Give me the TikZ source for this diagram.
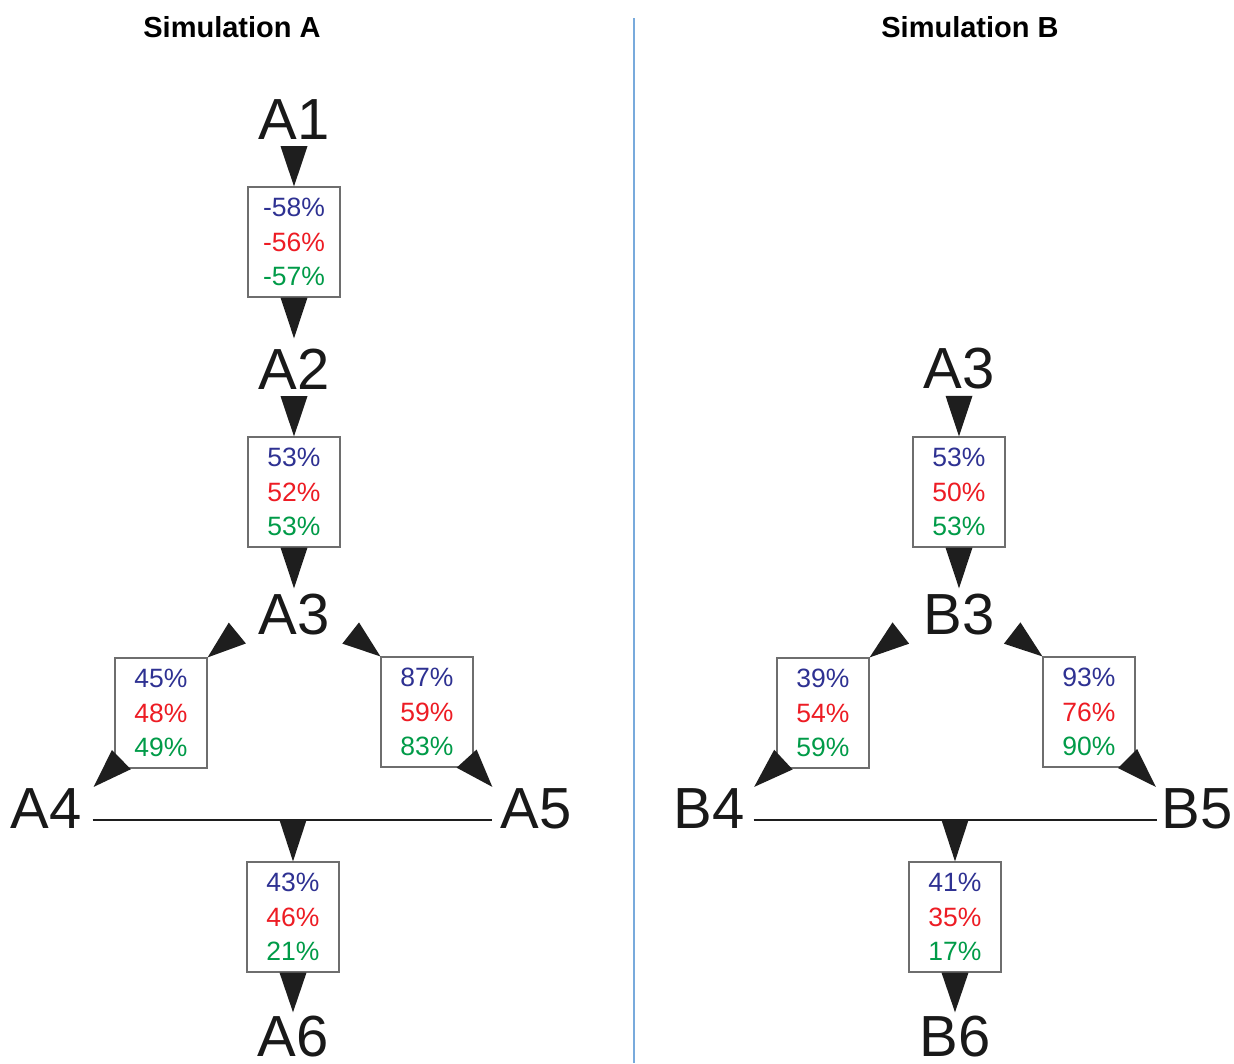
\documentclass[tikz,border=0pt]{standalone}
\usepackage{fontspec}
\setmainfont{Liberation Sans}
\usepackage{tikz}
\usetikzlibrary{calc}
\definecolor{simblue}{RGB}{46, 49, 146}
\definecolor{simred}{RGB}{237, 28, 36}
\definecolor{simgreen}{RGB}{0, 155, 72}
\definecolor{divblue}{RGB}{120, 170, 220}
\definecolor{boxgray}{RGB}{110, 110, 110}
\definecolor{tridark}{RGB}{30, 30, 30}

% triangle: base centre, apex
\newcommand{\flowtri}[2]{\fill[tri] ($#1!13.5pt!90:#2$) -- ($#1!13.5pt!-90:#2$) -- #2 -- cycle;}
\newcommand{\vals}[3]{\textcolor{simblue}{#1}\\\textcolor{simred}{#2}\\\textcolor{simgreen}{#3}}

\begin{document}
\begin{tikzpicture}[
    x=1pt, y=1pt,
    lbl/.style={font=\fontsize{58}{60}\selectfont, text=black!90, inner sep=0pt, anchor=base},
    title/.style={font=\fontsize{29}{32}\selectfont\bfseries, inner sep=0pt},
    valbox/.style={draw=boxgray, line width=1.2pt, fill=white, minimum width=92pt,
                   minimum height=110pt, inner sep=0pt, align=center,
                   font=\fontsize{26.5}{34.5}\selectfont},
    tri/.style={fill=tridark}
]
    \useasboundingbox (0,0) rectangle (1234,-1063);

    % Titles and divider
    \node[title] (titA) at (232,-27) {Simulation A};
    \node[title] (titB) at (970,-27) {Simulation B};
    \draw[divblue, line width=1.5pt] (634,-18) -- (634,-1063);

    % Simulation A
    \node[lbl] (A1) at (294,-139) {A1};
    \node[valbox] (pa1) at (294,-242) {\vals{-58\%}{-56\%}{-57\%}};
    \node[lbl] (A2) at (294,-389) {A2};
    \node[valbox] (pa2) at (294,-492) {\vals{53\%}{52\%}{53\%}};
    \node[lbl] (A3) at (294,-634) {A3};
    \node[valbox] (pa3) at (161,-713) {\vals{45\%}{48\%}{49\%}};
    \node[valbox] (pa4) at (427,-712) {\vals{87\%}{59\%}{83\%}};
    \node[lbl] (A4) at (46,-828) {A4};
    \node[lbl] (A5) at (536,-828) {A5};
    \node[valbox] (pa5) at (293,-917) {\vals{43\%}{46\%}{21\%}};
    \node[lbl] (A6) at (293,-1056) {A6};

    \coordinate (la) at ([shift={(11,-12)}]A4.east);
    \coordinate (ra) at ([xshift=-8pt]A5.west |- la);
    \draw[line width=2.8pt, tridark] (la) -- (ra);

    \flowtri{([yshift=-7pt]A1.south)}{(pa1.north)}
    \flowtri{(pa1.south)}{([yshift=10pt]A2.north)}
    \flowtri{([yshift=-7pt]A2.south)}{(pa2.north)}
    \flowtri{(pa2.south)}{([yshift=5pt]A3.north)}
    \flowtri{([shift={(-21,-19)}]A3.west)}{(pa3.north east)}
    \flowtri{([shift={(7,9)}]pa3.south west)}{([shift={(12,1)}]A4.north east)}
    \flowtri{([shift={(21,-19)}]A3.east)}{(pa4.north west)}
    \flowtri{([shift={(-7,9)}]pa4.south east)}{([shift={(-8,1)}]A5.north west)}
    \flowtri{(la -| pa5.north)}{(pa5.north)}
    \flowtri{(pa5.south)}{([yshift=3pt]A6.north)}

    % Simulation B
    \node[lbl] (bA3) at (959,-388) {A3};
    \node[valbox] (pb1) at (959,-492) {\vals{53\%}{50\%}{53\%}};
    \node[lbl] (B3) at (959,-634) {B3};
    \node[valbox] (pb2) at (823,-713) {\vals{39\%}{54\%}{59\%}};
    \node[valbox] (pb3) at (1089,-712) {\vals{93\%}{76\%}{90\%}};
    \node[lbl] (B4) at (709,-828) {B4};
    \node[lbl] (B5) at (1197,-828) {B5};
    \node[valbox] (pb4) at (955,-917) {\vals{41\%}{35\%}{17\%}};
    \node[lbl] (B6) at (955,-1056) {B6};

    \coordinate (lb) at ([shift={(9,-12)}]B4.east);
    \coordinate (rb) at ([xshift=-4.5pt]B5.west |- lb);
    \draw[line width=2.8pt, tridark] (lb) -- (rb);

    \flowtri{([yshift=-7pt]bA3.south)}{(pb1.north)}
    \flowtri{(pb1.south)}{([yshift=5pt]B3.north)}
    \flowtri{([shift={(-22.5,-19)}]B3.west)}{(pb2.north east)}
    \flowtri{([shift={(7,9)}]pb2.south west)}{([shift={(9.5,1)}]B4.north east)}
    \flowtri{([shift={(17.5,-19)}]B3.east)}{(pb3.north west)}
    \flowtri{([shift={(-8,9)}]pb3.south east)}{([shift={(-5.5,1)}]B5.north west)}
    \flowtri{(lb -| pb4.north)}{(pb4.north)}
    \flowtri{(pb4.south)}{([yshift=3pt]B6.north)}
\end{tikzpicture}
\end{document}
